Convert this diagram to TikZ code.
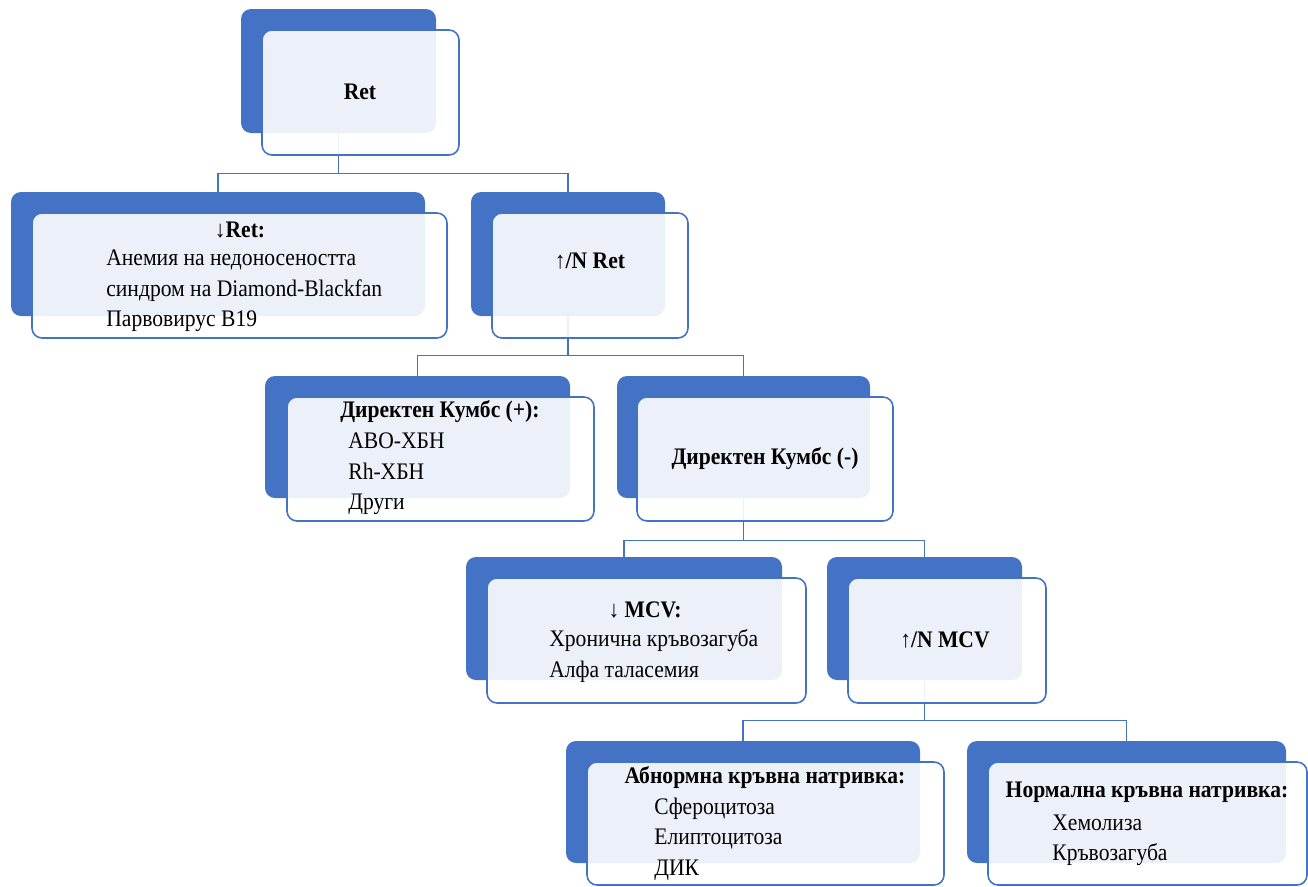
\documentclass[tikz,border=0pt]{standalone}
\usepackage{fontspec}
\setmainfont{Liberation Serif}[FakeStretch=0.91]
\usetikzlibrary{positioning,fit}
\definecolor{smartblue}{HTML}{4472C4}
\tikzset{
  backbox/.style={fill=smartblue, rounded corners=0.2cm, inner sep=0pt},
  frontbox/.style={draw=smartblue, line width=0.9pt, fill=white, fill opacity=0.9, rounded corners=0.2cm, inner sep=0pt},
  conn/.style={draw=smartblue, line width=0.9pt},
  head/.style={font=\fontsize{13.5}{17.3}\selectfont\bfseries, inner sep=0pt},
  items/.style={font=\fontsize{13.5}{17.3}\selectfont, align=left, anchor=west, inner sep=0pt},
}

\begin{document}
\begin{tikzpicture}[x=0.02cm, y=-0.02cm]
    \useasboundingbox (0,0) rectangle (1308,886);

    % back boxes
    \node[backbox, fit={(241,9) (436,133)}] (ret-b) {};
    \node[backbox, fit={(11,192) (425,316)}] (low-b) {};
    \node[backbox, fit={(471,192) (665,316)}] (high-b) {};
    \node[backbox, fit={(265,376) (570,498)}] (pos-b) {};
    \node[backbox, fit={(617,376) (870,498)}] (neg-b) {};
    \node[backbox, fit={(466,557) (782,680)}] (mcvlow-b) {};
    \node[backbox, fit={(827,557) (1022,680)}] (mcvhigh-b) {};
    \node[backbox, fit={(566,741) (920,863)}] (abn-b) {};
    \node[backbox, fit={(967,741) (1286,863)}] (norm-b) {};

    % connectors
    \draw[conn] (ret-b.south) -- ++(0,40) -| (low-b.north);
    \draw[conn] (ret-b.south) -- ++(0,40) -| (high-b.north);
    \draw[conn] (high-b.south) -- ++(0,39) -| (pos-b.north);
    \draw[conn] (high-b.south) -- ++(0,39) -| (neg-b.north);
    \draw[conn] (neg-b.south) -- ++(0,42) -| (mcvlow-b.north);
    \draw[conn] (neg-b.south) -- ++(0,42) -| (mcvhigh-b.north);
    \draw[conn] (mcvhigh-b.south) -- ++(0,40) -| (abn-b.north);
    \draw[conn] (mcvhigh-b.south) -- ++(0,40) -| (norm-b.north);

    % front boxes
    \node[frontbox, fit={(262,30) (459,155)}] (ret) {};
    \node[frontbox, fit={(32,213) (447,338)}] (low) {};
    \node[frontbox, fit={(492,213) (688,338)}] (high) {};
    \node[frontbox, fit={(287,397) (594,521)}] (pos) {};
    \node[frontbox, fit={(637,397) (893,521)}] (neg) {};
    \node[frontbox, fit={(487,578) (806,703)}] (mcvlow) {};
    \node[frontbox, fit={(848,578) (1046,703)}] (mcvhigh) {};
    \node[frontbox, fit={(587,762) (944,885)}] (abn) {};
    \node[frontbox, fit={(988,762) (1307,885)}] (norm) {};

    % texts
    \node[head] (ret-h) at (360,92) {Ret};

    \node[head] (low-h) at (240,230) {↓Ret:};
    \node[items] (low-t) at (106,291) {Анемия на недоносеността\\синдром на Diamond-Blackfan\\Парвовирус B19};

    \node[head] (high-h) at (590,261) {↑/N Ret};

    \node[head] (pos-h) at (440,412) {Директен Кумбс (+):};
    \node[items] (pos-t) at (348,474) {АВО-ХБН\\Rh-ХБН\\Други};

    \node[head] (neg-h) at (765,459) {Директен Кумбс (-)};

    \node[head] (mcvlow-h) at (645,610) {↓ MCV:};
    \node[items] (mcvlow-t) at (549,656) {Хронична кръвозагуба\\Алфа таласемия};

    \node[head] (mcvhigh-h) at (945,640) {↑/N MCV};

    \node[head] (abn-h) at (765,778) {Абнормна кръвна натривка:};
    \node[items] (abn-t) at (654,839) {Сфероцитоза\\Елиптоцитоза\\ДИК};

    \node[head] (norm-h) at (1147,792) {Нормална кръвна натривка:};
    \node[items] (norm-t) at (1052,840) {Хемолиза\\Кръвозагуба};
\end{tikzpicture}
\end{document}
